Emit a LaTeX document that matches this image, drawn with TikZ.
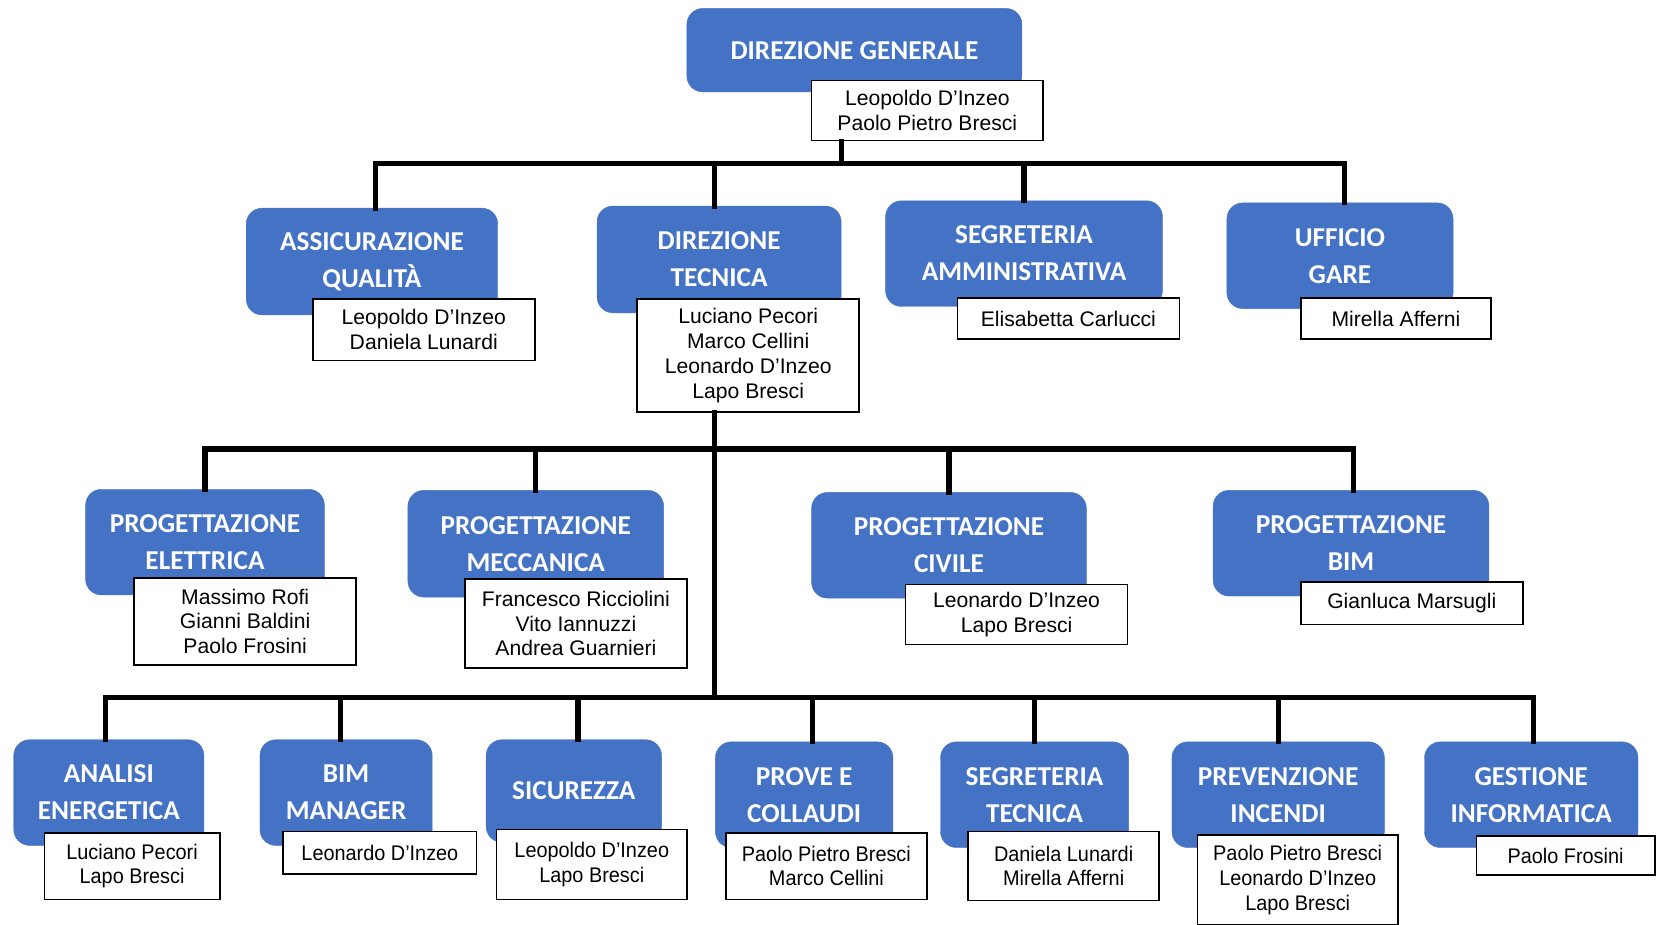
\documentclass[tikz,border=0pt]{standalone}
\usepackage{fontspec}
\setmainfont{Liberation Sans}
\newfontfamily\headfont{Carlito}
\newfontfamily\narrowfont{Liberation Sans}[FakeStretch=0.94]
\usepackage{tikz}
\usetikzlibrary{positioning}

\definecolor{unitblue}{RGB}{68,114,196}

\tikzset{
	unit/.style={draw=unitblue, fill=unitblue, rounded corners=15pt,
		text=white, align=center, inner sep=0pt,
		font=\headfont\bfseries\fontsize{25.8}{35}\selectfont},
	staff/.style={draw=black, line width=1.5pt, fill=white,
		align=center, inner sep=0pt,
		font=\fontsize{20}{23.5}\selectfont},
	lowstaff/.style={staff, font=\narrowfont\fontsize{20}{23.5}\selectfont},
	bus/.style={line width=5pt, line cap=rect}
}

\begin{document}
\begin{tikzpicture}[x=1pt, y=-1pt]
			\useasboundingbox (0,0) rectangle (1568,875);
			
			% Direzione Generale
			\node [unit, minimum width=317pt, minimum height=79pt] (dg) at (808.5,47.5) {DIREZIONE GENERALE};
			\node [staff, minimum width=219pt, minimum height=57pt] (dgn) at (877.5,104.5) {Leopoldo D’Inzeo\\Paolo Pietro Bresci};
			
			% first level
			\node [unit, minimum width=238pt, minimum height=101pt] (aq) at (352,247.5) {ASSICURAZIONE\\QUALITÀ};
			\node [staff, minimum width=210pt, minimum height=58pt] (aqn) at (401,312) {Leopoldo D’Inzeo\\Daniela Lunardi};
			
			\node [unit, minimum width=231pt, minimum height=101pt] (dt) at (680.5,245.5) {DIREZIONE\\TECNICA};
			\node [staff, minimum width=210pt, minimum height=107pt] (dtn) at (708,336.5) {Luciano Pecori\\Marco Cellini\\Leonardo D’Inzeo\\Lapo Bresci};
			
			\node [unit, minimum width=262pt, minimum height=100pt] (sa) at (969,240) {SEGRETERIA\\AMMINISTRATIVA};
			\node [staff, minimum width=210pt, minimum height=39pt] (san) at (1011,301.5) {Elisabetta Carlucci};
			
			\node [unit, minimum width=214pt, minimum height=100pt] (ug) at (1268,242) {UFFICIO\\GARE};
			\node [staff, minimum width=180pt, minimum height=39pt] (ugn) at (1321,301.5) {Mirella Afferni};
			
			% Progettazione
			\node [unit, minimum width=226pt, minimum height=100pt] (pe) at (194,513) {PROGETTAZIONE\\ELETTRICA};
			\node [staff, minimum width=210pt, minimum height=82pt] (pen) at (232,588) {Massimo Rofi\\Gianni Baldini\\Paolo Frosini};
			
			\node [unit, minimum width=242pt, minimum height=101pt] (pm) at (507,514.5) {PROGETTAZIONE\\MECCANICA};
			\node [staff, minimum width=210pt, minimum height=84pt] (pmn) at (545,590) {Francesco Ricciolini\\Vito Iannuzzi\\Andrea Guarnieri};
			
			\node [unit, minimum width=260pt, minimum height=100pt] (pc) at (898,516) {PROGETTAZIONE\\CIVILE};
			\node [staff, minimum width=210pt, minimum height=57pt] (pcn) at (962,581.5) {Leonardo D’Inzeo\\Lapo Bresci};
			
			\node [unit, minimum width=261pt, minimum height=100pt] (pb) at (1278.5,514) {PROGETTAZIONE\\BIM};
			\node [staff, minimum width=210pt, minimum height=40pt] (pbn) at (1336,571) {Gianluca Marsugli};
			
			% bottom row
			\node [unit, minimum width=180pt, minimum height=100pt] (ae) at (103,750) {ANALISI\\ENERGETICA};
			\node [lowstaff, minimum width=166pt, minimum height=63pt] (aen) at (125,819.5) {Luciano Pecori\\Lapo Bresci};
			
			\node [unit, minimum width=163pt, minimum height=100pt] (bm) at (327.5,750) {BIM\\MANAGER};
			\node [lowstaff, minimum width=183pt, minimum height=40pt] (bmn) at (359.5,807) {Leonardo D’Inzeo};
			
			\node [unit, minimum width=166pt, minimum height=97pt] (sic) at (543,748.5) {SICUREZZA};
			\node [lowstaff, minimum width=180pt, minimum height=66pt] (sicn) at (560,818) {Leopoldo D’Inzeo\\Lapo Bresci};
			
			\node [unit, minimum width=168pt, minimum height=100pt] (pcl) at (761,752) {PROVE E\\COLLAUDI};
			\node [lowstaff, minimum width=190pt, minimum height=63pt] (pcln) at (782,819.5) {Paolo Pietro Bresci\\Marco Cellini};
			
			\node [unit, minimum width=178pt, minimum height=100pt] (st) at (979,752) {SEGRETERIA\\TECNICA};
			\node [lowstaff, minimum width=181pt, minimum height=65pt] (stn) at (1006.5,819.5) {Daniela Lunardi\\Mirella Afferni};
			
			\node [unit, minimum width=201pt, minimum height=100pt] (pi) at (1209.5,752) {PREVENZIONE\\INCENDI};
			\node [lowstaff, minimum width=190pt, minimum height=85pt] (pin) at (1228,832.5) {Paolo Pietro Bresci\\Leonardo D’Inzeo\\Lapo Bresci};
			
			\node [unit, minimum width=202pt, minimum height=100pt] (gi) at (1449,752) {GESTIONE\\INFORMATICA};
			\node [lowstaff, minimum width=169pt, minimum height=37pt] (gin) at (1481.5,809.5) {Paolo Frosini};
			
			% Bus lines
			\coordinate (bus1) at (796,155);
			\coordinate (bus2) at (676,425);
			\coordinate (bus3) at (676,660);
			
			\draw[bus] (dgn.south -| bus1) -- (bus1);
			\draw[bus] ([xshift=3pt]aq.north) |- (bus1) -| ([xshift=4pt]ug.north);
			\draw[bus] (dt.north -| bus2) -- (bus1 -| bus2);
			\draw[bus] (sa.north) -- (sa.north |- bus1);
			
			\draw[bus] (dtn.south -| bus2) -- (bus3);
			\draw[bus] (pe.north) |- (bus2) -| ([xshift=2pt]pb.north);
			\draw[bus] (pm.north) -- (pm.north |- bus2);
			\draw[bus] (pc.north) -- (pc.north |- bus2);
			
			\draw[bus] ([xshift=-3pt]ae.north) |- (bus3) -| ([xshift=2pt]gi.north);
			\draw[bus] ([xshift=-5pt]bm.north) -- ([xshift=-5pt]bm.north |- bus3);
			\draw[bus] ([xshift=4pt]sic.north) -- ([xshift=4pt]sic.north |- bus3);
			\draw[bus] ([xshift=8pt]pcl.north) -- ([xshift=8pt]pcl.north |- bus3);
			\draw[bus] (st.north) -- (st.north |- bus3);
			\draw[bus] (pi.north) -- (pi.north |- bus3);
		
		\end{tikzpicture}
\end{document}
